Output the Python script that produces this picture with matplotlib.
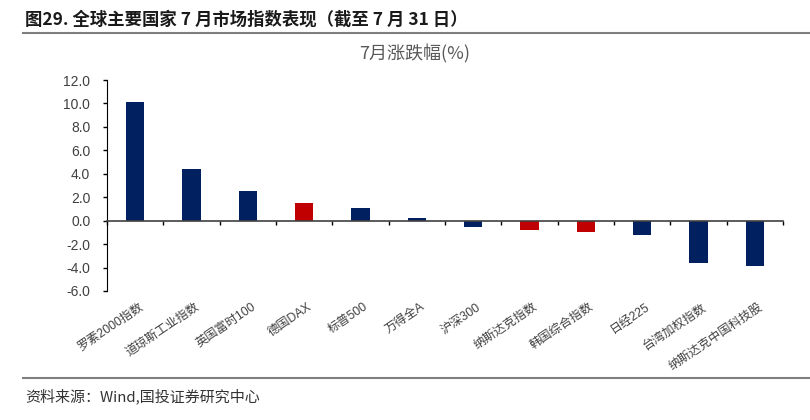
import matplotlib
matplotlib.use("Agg")
import matplotlib.pyplot as plt
import numpy as np

plt.rcParams['font.family'] = ['Noto Sans CJK SC', 'DejaVu Sans']

categories = ["罗素2000指数", "道琼斯工业指数", "英国富时100", "德国DAX", "标普500", "万得全A",
              "沪深300", "纳斯达克指数", "韩国综合指数", "日经225", "台湾加权指数", "纳斯达克中国科技股"]
values = [10.1, 4.4, 2.5, 1.5, 1.1, 0.2, -0.55, -0.8, -1.0, -1.2, -3.65, -3.85]
highlight = ["德国DAX", "纳斯达克指数", "韩国综合指数"]
yticks = [-6.0, -4.0, -2.0, 0.0, 2.0, 4.0, 6.0, 8.0, 10.0, 12.0]

navy = "#002060"
red = "#C00000"
colors = [red if c in highlight else navy for c in categories]

fig = plt.figure(figsize=(8.1, 4.2), dpi=100)
ax = fig.add_axes([107/810, 1-291/420, (783-107)/810, (291-80)/420])

x = np.arange(len(categories))
ax.bar(x, values, width=0.32, color=colors, zorder=2)
ax.set_xlim(-0.5, len(categories)-0.5)
ax.set_ylim(-6, 12)
ax.set_yticks(yticks)
ax.set_yticklabels([f"{v:.1f}" for v in yticks], family=['Liberation Sans', 'DejaVu Sans'],
                   fontsize=10, color="#404040")
ax.tick_params(axis='y', direction='out', length=3, width=1, color="#000000", pad=9)

for s in ['top', 'right']:
    ax.spines[s].set_visible(False)
ax.spines['left'].set_color('#000000')
ax.spines['bottom'].set_position(('data', 0))
ax.spines['bottom'].set_color('#404040')
ax.spines['bottom'].set_linewidth(1.2)

ax.set_xticks(np.arange(len(categories)+1) - 0.5, minor=False)
ax.set_xticklabels([])
ax.tick_params(axis='x', direction='out', length=3, width=1, color='#000000')

for i, c in enumerate(categories):
    ax.text(i + 0.06, -6.85, c, rotation=34, ha='right', va='top', fontsize=8.8,
            color="#404040", rotation_mode='anchor',
            family=['Liberation Sans', 'Noto Sans CJK SC'])

fig.text(25/810, 1-20/420, "图29. 全球主要国家 7 月市场指数表现（截至 7 月 31 日）",
         fontsize=12.5, fontweight='bold', color="#1a1a1a", va='center', ha='left')
fig.add_artist(plt.Line2D([23/810, 1.0], [1-33/420, 1-33/420], color="#7f7f7f", lw=1.5))
fig.text(415/810, 1-54/420, "7月涨跌幅(%)", fontsize=13, color="#595959", ha='center', va='center')
fig.add_artist(plt.Line2D([23/810, 1.0], [1-378/420, 1-378/420], color="#7f7f7f", lw=1.5))
fig.text(25/810, 1-396/420, "资料来源：Wind,国投证券研究中心", fontsize=10.8, color="#333333",
         style='italic', ha='left', va='center')

fig.savefig("out.png", dpi=100)
